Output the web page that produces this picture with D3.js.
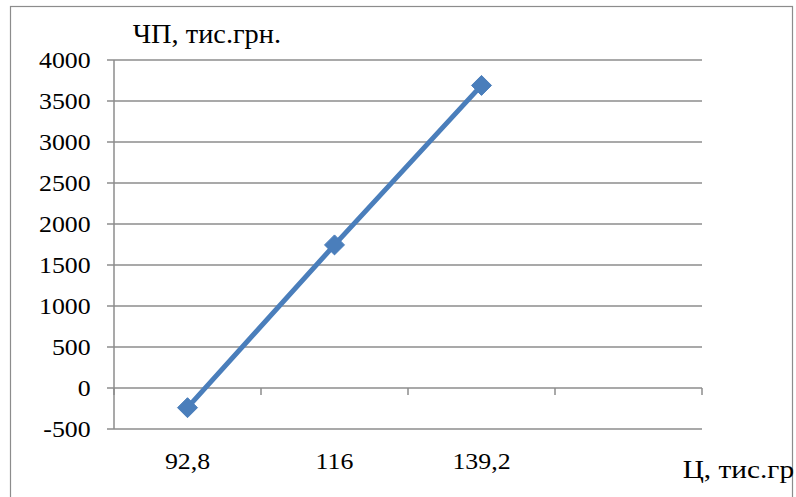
<!DOCTYPE html>
<html><head><meta charset="utf-8">
<script src="https://cdn.jsdelivr.net/npm/d3@7"></script>
<style>body{margin:0;background:#fff}svg{display:block}</style>
</head><body>
<svg id="c" width="796" height="497"></svg>
<script>
const categories = ["92,8", "116", "139,2", ""];
const values = [-240, 1745, 3690];
const yTicks = [-500, 0, 500, 1000, 1500, 2000, 2500, 3000, 3500, 4000];
const yTitle = "ЧП, тис.грн.";
const xTitle = "Ц, тис.гр";

const svg = d3.select("#c");
const grid = "#8c8c8c";
const FONT = "font-family:'Times New Roman','Liberation Serif',Tinos,'DejaVu Serif',serif;fill:#000;";
const SX = 1.1;

// outer frame
svg.append("rect").attr("x", 10.5).attr("y", 6.5).attr("width", 782).attr("height", 500)
  .attr("fill", "none").attr("stroke", grid).attr("stroke-width", 1.2);

const L = 114, R = 702, T = 60, B = 429;
const x = d3.scaleBand().domain(categories.map((c, i) => i)).range([L, R]);
const y = d3.scaleLinear().domain([-500, 4000]).range([B, T]);

// gridlines
svg.append("g").selectAll("line").data(yTicks).join("line")
  .attr("x1", L - 7).attr("x2", R).attr("y1", d => y(d)).attr("y2", d => y(d))
  .attr("stroke", grid).attr("stroke-width", 1.5);

// y axis line
svg.append("line").attr("x1", L).attr("x2", L).attr("y1", T).attr("y2", B)
  .attr("stroke", grid).attr("stroke-width", 1.5);

// y tick labels
svg.append("g").selectAll("text").data(yTicks).join("text")
  .attr("transform", d => `translate(${L - 23.3},${y(d)}) scale(${SX},1)`)
  .attr("text-anchor", "end").attr("dy", "0.34em")
  .attr("style", FONT + "font-size:23.5px")
  .text(d => String(d));

// x ticks at zero line (category boundaries)
const bounds = categories.map((c, i) => x(i)).concat([R]);
svg.append("g").selectAll("line").data(bounds).join("line")
  .attr("x1", d => d).attr("x2", d => d).attr("y1", y(0)).attr("y2", y(0) + 7)
  .attr("stroke", grid).attr("stroke-width", 1.5);

// x labels
svg.append("g").selectAll("text").data(categories).join("text")
  .attr("transform", (d, i) => `translate(${x(i) + x.bandwidth() / 2},469.3) scale(${SX},1)`)
  .attr("text-anchor", "middle").attr("style", FONT + "font-size:23.5px")
  .text(d => d);

// line
const pts = values.map((v, i) => [x(i) + x.bandwidth() / 2, y(v)]);
svg.append("path").attr("d", d3.line()(pts)).attr("fill", "none")
  .attr("stroke", "#4a7ebb").attr("stroke-width", 5).attr("stroke-linejoin", "round");

// markers
svg.append("g").selectAll("path").data(pts).join("path")
  .attr("transform", d => `translate(${d[0]},${d[1]})`)
  .attr("d", "M0,-10L10,0L0,10L-10,0Z")
  .attr("fill", "#4a7ebb").attr("stroke", "#4a7ebb").attr("stroke-width", 1);

// titles
svg.append("text").attr("transform", `translate(132.7,43.3) scale(1.05,1)`)
  .attr("style", FONT + "font-size:27px").text(yTitle);
svg.append("text").attr("transform", `translate(682.7,478.3) scale(1.15,1)`)
  .attr("style", FONT + "font-size:25.5px").text(xTitle);
</script>
</body></html>
